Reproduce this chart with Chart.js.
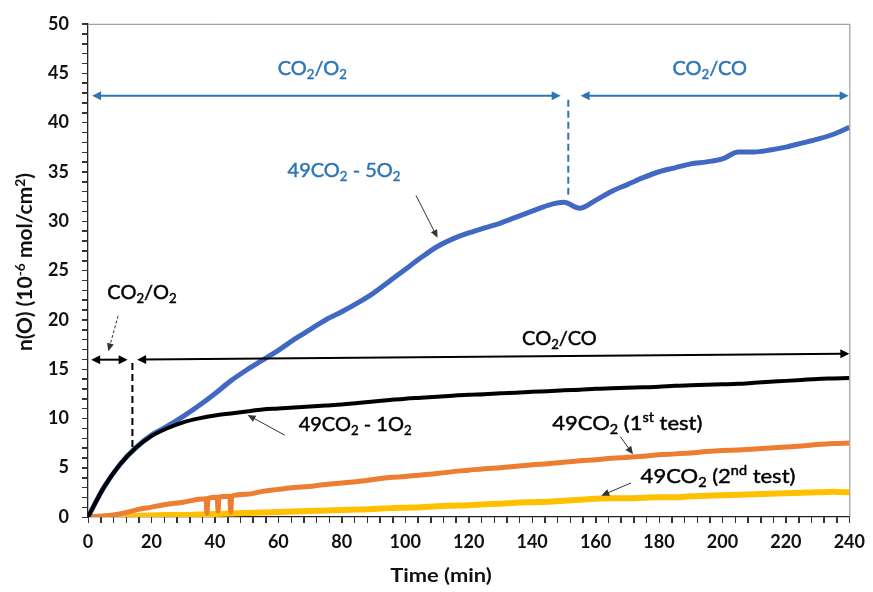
<!DOCTYPE html>
<html>
<head>
<meta charset="utf-8">
<script src="https://cdn.jsdelivr.net/npm/chart.js@4"></script>
<style>
  html, body { margin: 0; padding: 0; background: #fff; }
  #wrap { width: 873px; height: 592px; }
</style>
</head>
<body>
<div id="wrap"><canvas id="chart"></canvas></div>
<script>
// values (time in min, n(O) in 10^-6 mol/cm2)
const time = [0,5,10,15,20,25,30,35,40,45,50,55,60,65,70,75,80,85,90,95,100,105,110,115,120,
  125,130,135,140,145,150,155,160,165,170,175,180,185,190,195,200,205,210,215,220,225,230,235,240]

const co2o2_5 = [0,3.0,5.3,7.0,8.3,9.2,10.2,11.3,12.5,13.8,14.9,15.9,16.9,18.0,19.0,20.0,20.8,21.7,22.7,23.9,25.1,
  26.3,27.4,28.2,28.8,29.3,29.8,30.4,31.0,31.6,31.9,31.3,32.1,33.0,33.7,34.4,35.0,35.4,35.8,36.0,36.3,
  37.0,37.0,37.2,37.5,37.9,38.3,38.8,39.5]

const co2o2_1 = [0,3.0,5.3,7.0,8.2,9.0,9.6,10.0,10.3,10.5,10.7,10.9,11.0,11.1,11.2,11.3,11.4,11.55,11.7,11.85,12.0,
  12.1,12.2,12.3,12.4,12.45,12.55,12.6,12.7,12.75,12.85,12.9,13.0,13.05,13.1,13.15,13.2,13.3,13.35,13.4,13.45,
  13.5,13.6,13.7,13.8,13.9,14.0,14.05,14.1]

// 1st test has a few short drops near 40 min, so it keeps its own time list
const test1Time = [0,5,10,15,20,25,30,35,37.2,37.5,37.8,40.7,41,41.3,44.7,45,45.3,50,55,60,65,70,75,80,85,90,95,100,
  105,110,115,120,125,130,135,140,145,150,155,160,165,170,175,180,185,190,195,200,205,210,215,220,225,230,235,240]
const test1 = [0,0.1,0.3,0.7,1.0,1.3,1.5,1.8,1.85,0.4,1.9,2.0,0.6,2.0,2.1,0.5,2.1,2.3,2.6,2.8,3.0,3.1,3.3,3.45,3.6,3.8,4.0,4.1,
  4.25,4.4,4.6,4.75,4.9,5.0,5.15,5.3,5.4,5.55,5.7,5.8,5.95,6.05,6.15,6.3,6.4,6.5,6.65,6.75,6.8,6.9,7.0,7.1,7.2,7.35,7.45,7.5]

const test2 = [0,0.02,0.05,0.1,0.15,0.2,0.2,0.25,0.3,0.35,0.4,0.45,0.5,0.55,0.6,0.65,0.7,0.75,0.8,0.9,0.95,
  1.0,1.1,1.15,1.2,1.3,1.35,1.45,1.5,1.55,1.65,1.75,1.85,1.9,1.9,1.95,2.0,2.0,2.1,2.15,2.2,
  2.25,2.3,2.35,2.4,2.45,2.5,2.55,2.5]

const xTicks = [0,20,40,60,80,100,120,140,160,180,200,220,240]
const yTicks = [0,5,10,15,20,25,30,35,40,45,50]

const FONT = 'Lato'
const BLUE_TXT = '#2e75b6'
const LBL = 20

function pts(xs, ys) {
  return xs.map((t, i) => ({ x: t, y: ys[i] }))
}

// text with sub/superscript parts: [text, 'n' | 'sub' | 'sup']
function richText(ctx, parts, x, y, size, color, weight, angle, stretch) {
  ctx.save()
  ctx.translate(x, y)
  if (angle) ctx.rotate(angle)
  if (stretch) ctx.scale(stretch, 1)
  const sz = p => p[1] == 'n' ? size : size * 0.66
  let w = 0
  parts.forEach(p => { ctx.font = `${weight} ${sz(p)}px ${FONT}`; w += ctx.measureText(p[0]).width })
  let cx = -w / 2
  ctx.fillStyle = color
  ctx.strokeStyle = color
  ctx.lineWidth = weight == 'normal' ? 0.45 : 0
  ctx.textBaseline = 'alphabetic'
  ctx.textAlign = 'left'
  parts.forEach(p => {
    ctx.font = `${weight} ${sz(p)}px ${FONT}`
    let dy = 0
    if (p[1] == 'sub') dy = size * 0.2
    if (p[1] == 'sup') dy = -size * 0.38
    ctx.fillText(p[0], cx, dy + size * 0.36)
    if (weight == 'normal') ctx.strokeText(p[0], cx, dy + size * 0.36)
    cx += ctx.measureText(p[0]).width
  })
  ctx.restore()
}

function head(ctx, x1, y1, x2, y2, len, half) {
  const a = Math.atan2(y2 - y1, x2 - x1)
  ctx.beginPath()
  ctx.moveTo(x2, y2)
  ctx.lineTo(x2 - len * Math.cos(a) + half * Math.sin(a), y2 - len * Math.sin(a) - half * Math.cos(a))
  ctx.lineTo(x2 - len * Math.cos(a) - half * Math.sin(a), y2 - len * Math.sin(a) + half * Math.cos(a))
  ctx.closePath()
  ctx.fill()
}

function arrow(ctx, x1, y1, x2, y2, o) {
  ctx.save()
  ctx.strokeStyle = o.color
  ctx.fillStyle = o.color
  ctx.lineWidth = o.width
  if (o.dash) ctx.setLineDash(o.dash)
  const a = Math.atan2(y2 - y1, x2 - x1)
  const cut = o.len * 0.8
  let sx = x1, sy = y1
  if (o.both) { sx = x1 + cut * Math.cos(a); sy = y1 + cut * Math.sin(a) }
  ctx.beginPath()
  ctx.moveTo(sx, sy)
  ctx.lineTo(x2 - cut * Math.cos(a), y2 - cut * Math.sin(a))
  ctx.stroke()
  ctx.setLineDash([])
  head(ctx, x1, y1, x2, y2, o.len, o.half)
  if (o.both) head(ctx, x2, y2, x1, y1, o.len, o.half)
  ctx.restore()
}

function dashed(ctx, x1, y1, x2, y2, color, dash) {
  ctx.save()
  ctx.strokeStyle = color
  ctx.lineWidth = 2
  ctx.setLineDash(dash)
  ctx.beginPath()
  ctx.moveTo(x1, y1)
  ctx.lineTo(x2, y2)
  ctx.stroke()
  ctx.restore()
}

// top/right frame plus the small outward ticks on both axes
const frame = {
  id: 'frame',
  beforeDatasetsDraw(chart) {
    const { ctx, chartArea: a, scales: { x, y } } = chart
    ctx.save()
    ctx.strokeStyle = '#8a8a8a'
    ctx.lineWidth = 1
    ctx.beginPath()
    ctx.moveTo(a.left, a.top + 0.5)
    ctx.lineTo(a.right + 0.5, a.top + 0.5)
    ctx.lineTo(a.right + 0.5, a.bottom)
    ctx.stroke()
    ctx.strokeStyle = '#333'
    ctx.beginPath()
    x.ticks.forEach(t => {
      const p = Math.round(x.getPixelForValue(t.value)) + 0.5
      ctx.moveTo(p, a.bottom)
      ctx.lineTo(p, a.bottom + 6)
    })
    y.ticks.forEach(t => {
      const p = Math.round(y.getPixelForValue(t.value)) + 0.5
      ctx.moveTo(a.left - 6, p)
      ctx.lineTo(a.left, p)
    })
    ctx.stroke()
    ctx.restore()
  }
}

const notes = {
  id: 'notes',
  afterDatasetsDraw(chart) {
    const { ctx, scales: { x, y } } = chart
    const px = t => x.getPixelForValue(t)
    const py = v => y.getPixelForValue(v)
    const big = { color: BLUE_TXT, width: 2, len: 9, half: 4.5, both: true }
    const blk = { color: '#000', width: 2, len: 9, half: 4.5, both: true }
    const thin = { color: '#333', width: 1, len: 8, half: 3.5, both: false }

    // CO2/O2 then CO2/CO for the 49CO2 - 5O2 run
    arrow(ctx, px(1.3), py(42.7), px(149.0), py(42.7), big)
    dashed(ctx, px(151.4), py(42.3), px(151.4), py(32.3), BLUE_TXT, [7, 4])
    arrow(ctx, px(155.3), py(42.7), px(239.8), py(42.7), big)
    richText(ctx, [['CO', 'n'], ['2', 'sub'], ['/O', 'n'], ['2', 'sub']], px(70.7), py(45.5), LBL, BLUE_TXT, 'normal')
    richText(ctx, [['CO', 'n'], ['2', 'sub'], ['/CO', 'n']], px(196), py(45.5), LBL, BLUE_TXT, 'normal')

    // CO2/O2 then CO2/CO for the 49CO2 - 1O2 run
    arrow(ctx, px(1.0), py(15.95), px(12.5), py(15.95), blk)
    dashed(ctx, px(14.0), py(15.6), px(14.0), py(6.7), '#000', [7, 4])
    arrow(ctx, px(15.5), py(15.95), px(240), py(16.55), blk)
    richText(ctx, [['CO', 'n'], ['2', 'sub'], ['/O', 'n'], ['2', 'sub']], px(17.0), py(22.8), LBL, '#000', 'normal')
    arrow(ctx, px(9.5), py(20.4), px(6.4), py(16.8), { ...thin, dash: [3, 2] })
    richText(ctx, [['CO', 'n'], ['2', 'sub'], ['/CO', 'n']], px(148.6), py(18.2), LBL, '#000', 'normal')

    // series labels
    richText(ctx, [['49CO', 'n'], ['2', 'sub'], [' - 5O', 'n'], ['2', 'sub']], px(80.7), py(35.2), LBL, BLUE_TXT, 'normal')
    arrow(ctx, px(103.4), py(32.6), px(110.2), py(28.3), thin)
    richText(ctx, [['49CO', 'n'], ['2', 'sub'], [' - 1O', 'n'], ['2', 'sub']], px(84.2), py(9.45), LBL, '#000', 'normal')
    arrow(ctx, px(62.0), py(8.3), px(50.3), py(10.35), thin)
    richText(ctx, [['49CO', 'n'], ['2', 'sub'], [' (1', 'n'], ['st', 'sup'], [' test)', 'n']], px(170), py(9.55), LBL, '#000', 'normal', 0, 1.1)
    arrow(ctx, px(167.8), py(8.15), px(171.8), py(6.35), thin)
    richText(ctx, [['49CO', 'n'], ['2', 'sub'], [' (2', 'n'], ['nd', 'sup'], [' test)', 'n']], px(198.6), py(4.2), LBL, '#000', 'normal', 0, 1.1)
    arrow(ctx, px(171.2), py(3.46), px(161.8), py(2.16), thin)

    // axis titles
    richText(ctx, [['Time (min)', 'n']], 441, 575, 19, '#111', 'bold', 0, 1.15)
    richText(ctx, [['n(O) (10', 'n'], ['-6', 'sup'], [' mol/cm', 'n'], ['2', 'sup'], [')', 'n']], 25, 262, 20, '#111', 'bold', -Math.PI / 2, 1.05)
  }
}

const line = (label, data, color, width) => ({
  label, data, borderColor: color, borderWidth: width,
  pointRadius: 0, cubicInterpolationMode: 'monotone', fill: false
})

new Chart(document.getElementById('chart'), {
  type: 'line',
  data: {
    datasets: [
      line('49CO2 - 1O2', pts(time, co2o2_1), '#000000', 4),
      line('49CO2 - 5O2', pts(time, co2o2_5), '#4169c4', 5),
      line('49CO2 (1st test)', pts(test1Time, test1), '#ed7d31', 5),
      line('49CO2 (2nd test)', pts(time, test2), '#ffc000', 6)
    ]
  },
  options: {
    responsive: true,
    maintainAspectRatio: false,
    animation: false,
    layout: { padding: { top: 15, right: 21, left: 0, bottom: 0 } },
    plugins: { legend: { display: false }, tooltip: { enabled: false } },
    scales: {
      x: {
        type: 'linear', min: 0, max: 240,
        afterFit: s => { s.height = 75 },
        border: { display: true, color: '#222', width: 1.3 },
        grid: { drawOnChartArea: false, drawTicks: true, tickLength: 6, tickColor: '#333' },
        ticks: {
          stepSize: 4, autoSkip: false, maxTicksLimit: 100, maxRotation: 0, padding: 8,
          color: '#111', font: { family: FONT, size: 18, weight: 'bold' },
          callback: v => xTicks.includes(v) ? String(v) : ''
        }
      },
      y: {
        min: 0, max: 50,
        afterFit: s => { s.width = 88 },
        border: { display: true, color: '#222', width: 1.3 },
        grid: { drawOnChartArea: false, drawTicks: true, tickLength: 6, tickColor: '#333' },
        ticks: {
          stepSize: 1, autoSkip: false, maxTicksLimit: 100, padding: 13,
          color: '#111', font: { family: FONT, size: 18, weight: 'bold' },
          callback: v => yTicks.includes(v) ? String(v) : ''
        }
      }
    }
  },
  plugins: [frame, notes]
})
</script>
</body>
</html>
